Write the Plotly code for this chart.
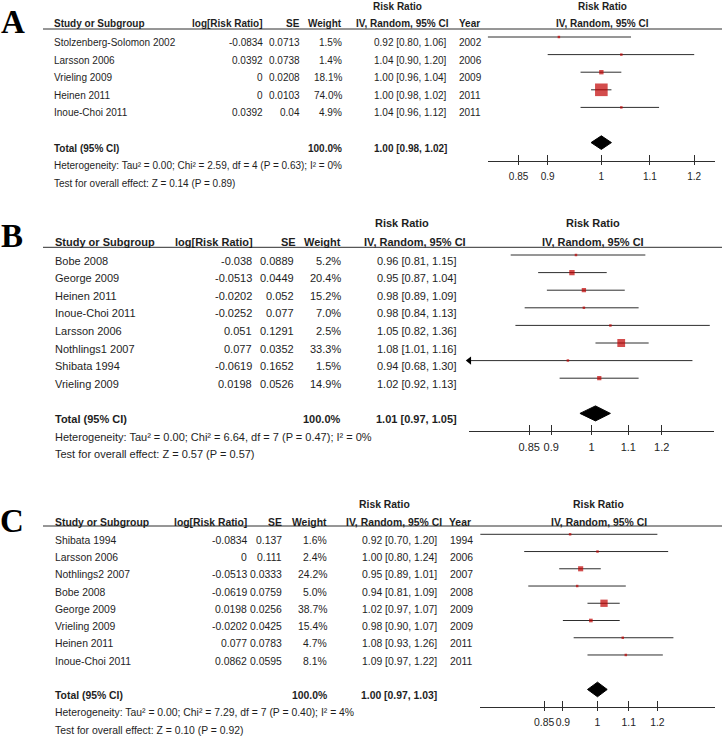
import numpy as np
import plotly.graph_objects as go

# ---------------- DATA ----------------
# Panel A
a_studies = ["Stolzenberg-Solomon 2002", "Larsson 2006", "Vrieling 2009", "Heinen 2011", "Inoue-Choi 2011"]
a_log_rr = [-0.0834, 0.0392, 0, 0, 0.0392]
a_se = [0.0713, 0.0738, 0.0208, 0.0103, 0.04]
a_weight = [1.5, 1.4, 18.1, 74.0, 4.9]
a_rr = [0.92, 1.04, 1.00, 1.00, 1.04]
a_lo = [0.80, 0.90, 0.96, 0.98, 0.96]
a_hi = [1.06, 1.20, 1.04, 1.02, 1.12]
a_year = [2002, 2006, 2009, 2011, 2011]
a_total = [1.00, 0.98, 1.02]
a_total_weight = 100.0
a_het = [0.00, 2.59, 4, 0.63, 0]      # Tau2, Chi2, df, P, I2
a_test = [0.14, 0.89]                 # Z, P

# Panel B
b_studies = ["Bobe 2008", "George 2009", "Heinen 2011", "Inoue-Choi 2011", "Larsson 2006",
             "Nothlings1 2007", "Shibata 1994", "Vrieling 2009"]
b_log_rr = [-0.038, -0.0513, -0.0202, -0.0252, 0.051, 0.077, -0.0619, 0.0198]
b_se = [0.0889, 0.0449, 0.052, 0.077, 0.1291, 0.0352, 0.1652, 0.0526]
b_weight = [5.2, 20.4, 15.2, 7.0, 2.5, 33.3, 1.5, 14.9]
b_rr = [0.96, 0.95, 0.98, 0.98, 1.05, 1.08, 0.94, 1.02]
b_lo = [0.81, 0.87, 0.89, 0.84, 0.82, 1.01, 0.68, 0.92]
b_hi = [1.15, 1.04, 1.09, 1.13, 1.36, 1.16, 1.30, 1.13]
b_year = None
b_total = [1.01, 0.97, 1.05]
b_total_weight = 100.0
b_het = [0.00, 6.64, 7, 0.47, 0]
b_test = [0.57, 0.57]

# Panel C
c_studies = ["Shibata 1994", "Larsson 2006", "Nothlings2 2007", "Bobe 2008", "George 2009",
             "Vrieling 2009", "Heinen 2011", "Inoue-Choi 2011"]
c_log_rr = [-0.0834, 0, -0.0513, -0.0619, 0.0198, -0.0202, 0.077, 0.0862]
c_se = [0.137, 0.111, 0.0333, 0.0759, 0.0256, 0.0425, 0.0783, 0.0595]
c_weight = [1.6, 2.4, 24.2, 5.0, 38.7, 15.4, 4.7, 8.1]
c_rr = [0.92, 1.00, 0.95, 0.94, 1.02, 0.98, 1.08, 1.09]
c_lo = [0.70, 0.80, 0.89, 0.81, 0.97, 0.90, 0.93, 0.97]
c_hi = [1.20, 1.24, 1.01, 1.09, 1.07, 1.07, 1.26, 1.22]
c_year = [1994, 2006, 2007, 2008, 2009, 2009, 2011, 2011]
c_total = [1.00, 0.97, 1.03]
c_total_weight = 100.0
c_het = [0.00, 7.29, 7, 0.40, 4]
c_test = [0.10, 0.92]

tick_vals = [0.85, 0.9, 1, 1.1, 1.2]
tick_text = ["0.85", "0.9", "1", "1.1", "1.2"]
null_value = 1.0

# ---------------- LAYOUT CONSTANTS (pixels) ----------------
W, H = 722, 738
TXT = "#1e1e1e"
LINE = "#2e2e2e"
RED = "#c00000"
SANS = "Liberation Sans, Arial, sans-serif"
SERIF = "Liberation Serif, Times New Roman, serif"


def px_x(x):
    return x / W


def px_y(y):
    return 1 - y / H


LA = dict(letter="A", fs=10, band=(0, 200), row0=37, step=17.6, toff=5.5, let_xy=(13, 22),
          head1=6, head2=24, rule=29, c_study=51.7, c_lrr=264.5, c_se=301.7, c_w=344.3,
          c_ci=448.5, c_year=456.7, h_lrr=265, h_se=301.7, h_w=344.3, h_ci=450.7, h_year=457.3,
          h_rr=397, f_head=602, axis_y=161, fx0=487.7, fx1=715, hw=1.25, sq_k=0.5, dia=6.8)
LB = dict(letter="B", fs=11, band=(200, 480), row0=255, step=17.6, toff=5.7, let_xy=(12, 236),
          head1=223.3, head2=242.3, rule=247.3, c_study=53, c_lrr=254.3, c_se=296, c_w=343.3,
          c_ci=459, c_year=None, h_lrr=255, h_se=297.7, h_w=343.3, h_ci=468, h_year=None,
          h_rr=402.5, f_head=593, axis_y=430.7, fx0=469.3, fx1=714, hw=1.375, sq_k=0.56, dia=7.5)
LC = dict(letter="C", fs=10.4, band=(480, 738), row0=534.3, step=17.24, toff=6.2, let_xy=(12, 521),
          head1=504, head2=522.3, rule=526, c_study=52.7, c_lrr=248.5, c_se=284, c_w=329.3,
          c_ci=439.3, c_year=448, h_lrr=248.5, h_se=284, h_w=328.8, h_ci=444.3, h_year=447.3,
          h_rr=384.7, f_head=598.5, axis_y=706.7, fx0=480, fx1=715, hw=1.43, sq_k=0.47, dia=7.3)

panels = [
    dict(studies=a_studies, lrr=a_log_rr, se=a_se, w=a_weight, rr=a_rr, lo=a_lo, hi=a_hi,
         year=a_year, total=a_total, tw=a_total_weight, het=a_het, test=a_test, L=LA),
    dict(studies=b_studies, lrr=b_log_rr, se=b_se, w=b_weight, rr=b_rr, lo=b_lo, hi=b_hi,
         year=b_year, total=b_total, tw=b_total_weight, het=b_het, test=b_test, L=LB),
    dict(studies=c_studies, lrr=c_log_rr, se=c_se, w=c_weight, rr=c_rr, lo=c_lo, hi=c_hi,
         year=c_year, total=c_total, tw=c_total_weight, het=c_het, test=c_test, L=LC),
]


def fmt_ci(m, l, h):
    return f"{m:.2f} [{l:.2f}, {h:.2f}]"


fig = go.Figure()
annotations = []
shapes = []
layout_axes = {}

for i, P in enumerate(panels):
    L = P["L"]
    fs = L["fs"]
    n = len(P["studies"])
    xa = "x" if i == 0 else f"x{i + 1}"
    xt = f"x{i + 4}"
    ya = "y" if i == 0 else f"y{i + 1}"
    rows = list(range(n))
    total_row = n + 1
    het_row = n + 2
    test_row = n + 3
    xmin, xmax = 1 / L["hw"], L["hw"]

    # --- CI lines
    xs, ys = [], []
    for r, (l, h) in enumerate(zip(P["lo"], P["hi"])):
        xs += [l, h, None]
        ys += [r, r, None]
    fig.add_trace(go.Scatter(x=xs, y=ys, mode="lines", line=dict(color=LINE, width=1),
                             xaxis=xa, yaxis=ya, hoverinfo="skip", showlegend=False))
    # --- arrows for clipped intervals
    arx, ary, ars = [], [], []
    for r, (l, h) in enumerate(zip(P["lo"], P["hi"])):
        if l < xmin:
            arx.append(xmin); ary.append(r); ars.append("triangle-left")
        if h > xmax:
            arx.append(xmax); ary.append(r); ars.append("triangle-right")
    if arx:
        fig.add_trace(go.Scatter(x=arx, y=ary, mode="markers", cliponaxis=False,
                                 marker=dict(symbol=ars, size=7, color="black"),
                                 xaxis=xa, yaxis=ya, hoverinfo="skip", showlegend=False))
    # --- weight squares
    sizes = [max(2.5, L["sq_k"] * w ** 0.75) for w in P["w"]]
    fig.add_trace(go.Scatter(x=P["rr"], y=rows, mode="markers",
                             marker=dict(symbol="square", size=sizes, color=RED, line=dict(width=0)),
                             xaxis=xa, yaxis=ya, hoverinfo="skip", showlegend=False))
    # --- pooled diamond
    tm, tl, th = P["total"]
    dh = L["dia"] / L["step"]
    fig.add_trace(go.Scatter(x=[tl, tm, th, tm, tl],
                             y=[total_row, total_row - dh, total_row, total_row + dh, total_row],
                             mode="lines", fill="toself", fillcolor="black",
                             line=dict(color="black", width=1),
                             xaxis=xa, yaxis=ya, hoverinfo="skip", showlegend=False))
    # --- invisible trace for the upward tick overlay axis
    fig.add_trace(go.Scatter(x=[null_value], y=[0], mode="markers", marker=dict(opacity=0),
                             xaxis=xt, yaxis=ya, hoverinfo="skip", showlegend=False))

    # --- axes
    T, B = L["band"]
    xkey = "xaxis" if i == 0 else f"xaxis{i + 1}"
    ykey = "yaxis" if i == 0 else f"yaxis{i + 1}"
    layout_axes[ykey] = dict(domain=[px_y(B), px_y(T)],
                             range=[(B - L["row0"]) / L["step"], (T - L["row0"]) / L["step"]],
                             visible=False, fixedrange=True, anchor=xa)
    rng = [np.log10(xmin), np.log10(xmax)]
    layout_axes[xkey] = dict(type="log", range=rng, domain=[px_x(L["fx0"]), px_x(L["fx1"])],
                             anchor="free", position=px_y(L["axis_y"]),
                             showgrid=False, zeroline=False, showline=True, linecolor=LINE,
                             linewidth=1, ticks="outside", ticklen=3, tickcolor=LINE, tickwidth=1,
                             tickvals=tick_vals, ticktext=tick_text, ticklabelstandoff=3,
                             tickangle=0,
                             tickfont=dict(size=fs, color=TXT, family=SANS), fixedrange=True)
    layout_axes[f"xaxis{i + 4}"] = dict(type="log", range=rng, overlaying=xa, anchor="free",
                                        position=px_y(L["axis_y"]), side="top",
                                        showgrid=False, zeroline=False, showline=False,
                                        ticks="outside", ticklen=6, tickcolor=LINE, tickwidth=1,
                                        tickvals=tick_vals, showticklabels=False, fixedrange=True)

    # --- null line and header rule
    shapes.append(dict(type="line", xref=xa, yref="paper", x0=np.log10(null_value),
                       x1=np.log10(null_value), y0=px_y(L["rule"]), y1=px_y(L["axis_y"]),
                       line=dict(color=LINE, width=1)))
    shapes.append(dict(type="line", xref="paper", yref="paper", x0=px_x(43), x1=1,
                       y0=px_y(L["rule"]), y1=px_y(L["rule"]), line=dict(color=LINE, width=1)))

    # --- text helpers
    def row_text(text, xpx, r, anchor, bold=False):
        annotations.append(dict(text=f"<b>{text}</b>" if bold else text, x=px_x(xpx), xref="paper",
                                y=r, yref=ya, yshift=-L["toff"], xanchor=anchor, yanchor="middle",
                                showarrow=False, font=dict(size=fs, color=TXT, family=SANS)))

    def head_text(text, xpx, ypx, anchor):
        annotations.append(dict(text=f"<b>{text}</b>", x=px_x(xpx), xref="paper",
                                y=px_y(ypx), yref="paper", xanchor=anchor, yanchor="middle",
                                showarrow=False, font=dict(size=fs, color=TXT, family=SANS)))

    # panel letter
    annotations.append(dict(text=f"<b>{L['letter']}</b>", x=px_x(L["let_xy"][0]), xref="paper",
                            y=px_y(L["let_xy"][1]), yref="paper", xanchor="center", yanchor="middle",
                            showarrow=False, font=dict(size=33, color="black", family=SERIF)))
    # headers
    head_text("Risk Ratio", L["h_rr"], L["head1"], "center")
    head_text("Risk Ratio", L["f_head"], L["head1"], "center")
    head_text("Study or Subgroup", L["c_study"], L["head2"], "left")
    head_text("log[Risk Ratio]", L["h_lrr"], L["head2"], "right")
    head_text("SE", L["h_se"], L["head2"], "right")
    head_text("Weight", L["h_w"], L["head2"], "right")
    head_text("IV, Random, 95% CI", L["h_ci"], L["head2"], "right")
    if P["year"] is not None:
        head_text("Year", L["h_year"], L["head2"], "left")
    head_text("IV, Random, 95% CI", L["f_head"], L["head2"], "center")

    # study rows
    for r in rows:
        row_text(P["studies"][r], L["c_study"], r, "left")
        row_text(f"{P['lrr'][r]:g}", L["c_lrr"], r, "right")
        row_text(f"{P['se'][r]:g}", L["c_se"], r, "right")
        row_text(f"{P['w'][r]:.1f}%", L["c_w"], r, "right")
        row_text(fmt_ci(P["rr"][r], P["lo"][r], P["hi"][r]), L["c_ci"], r, "right")
        if P["year"] is not None:
            row_text(str(P["year"][r]), L["c_year"], r, "left")

    # totals
    row_text("Total (95% CI)", L["c_study"], total_row, "left", bold=True)
    row_text(f"{P['tw']:.1f}%", L["c_w"], total_row, "right", bold=True)
    row_text(fmt_ci(tm, tl, th), L["c_ci"], total_row, "right", bold=True)
    tau2, chi2, df, ph, i2 = P["het"]
    row_text(f"Heterogeneity: Tau² = {tau2:.2f}; Chi² = {chi2:.2f}, df = {df} (P = {ph:.2f}); I² = {i2}%",
             L["c_study"], het_row, "left")
    z, pz = P["test"]
    row_text(f"Test for overall effect: Z = {z:.2f} (P = {pz:.2f})", L["c_study"], test_row, "left")

fig.update_layout(
    width=W, height=H, margin=dict(l=0, r=0, t=0, b=0),
    paper_bgcolor="white", plot_bgcolor="rgba(0,0,0,0)",
    showlegend=False, annotations=annotations, shapes=shapes,
    font=dict(family=SANS, color=TXT),
    **layout_axes,
)

fig.write_html("out.html", config={"displayModeBar": False, "staticPlot": True},
               post_script="document.body.style.margin='0px';document.body.style.overflow='hidden';")
